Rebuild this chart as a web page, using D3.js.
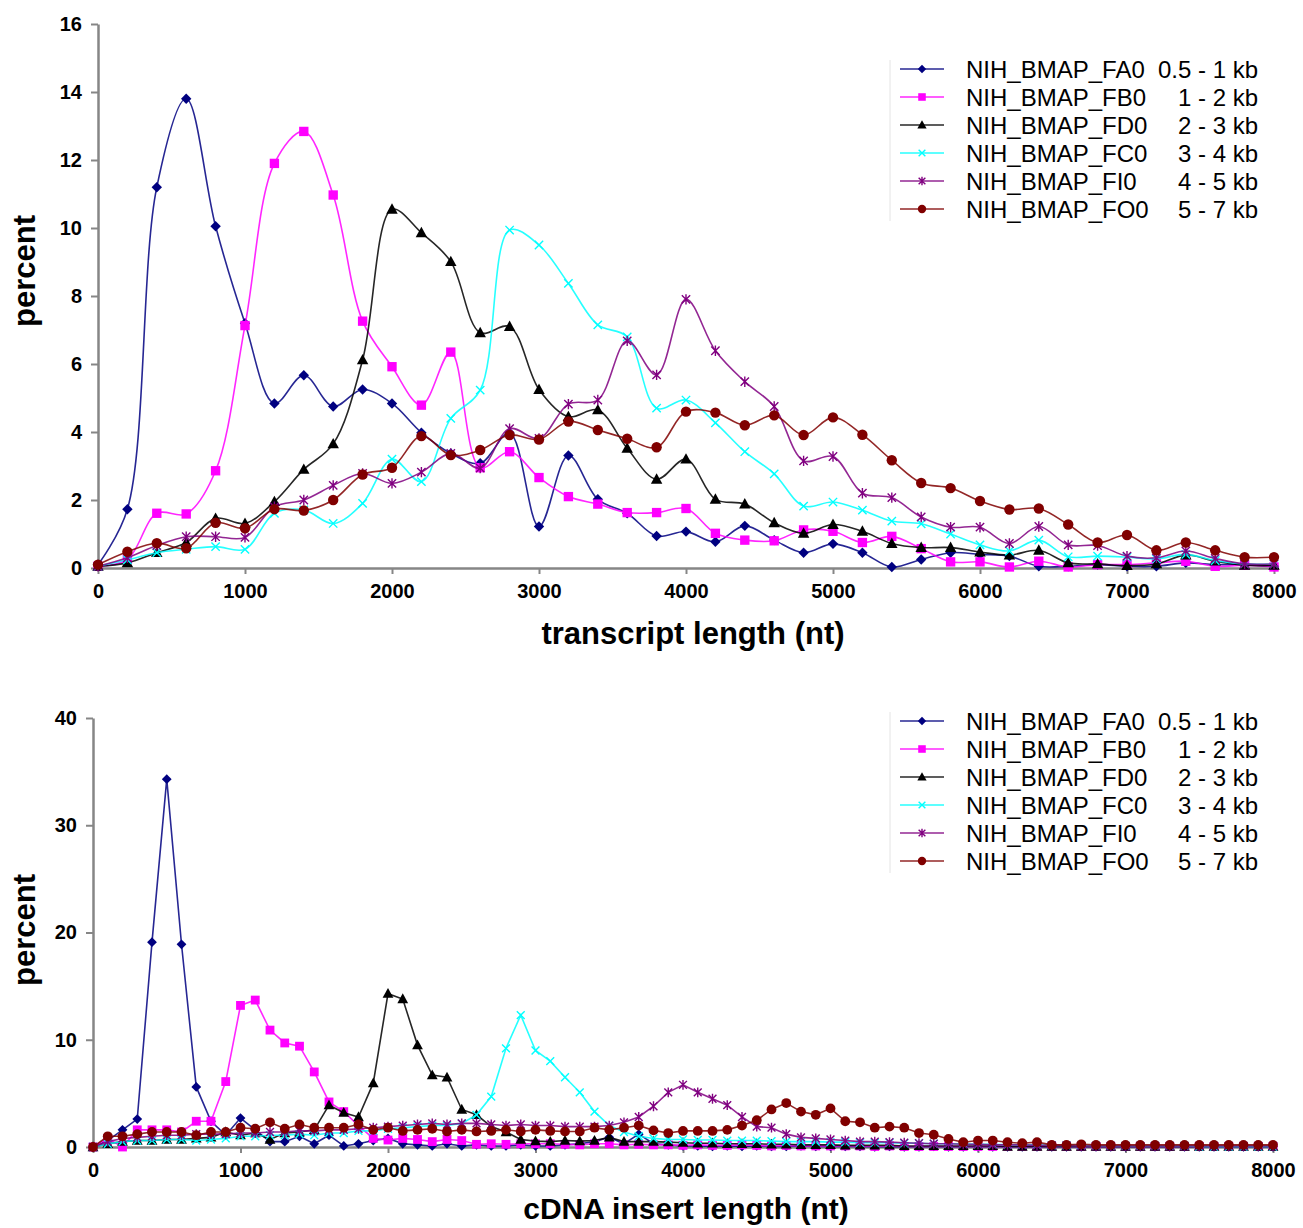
<!DOCTYPE html>
<html>
<head>
<meta charset="utf-8">
<script src="https://cdn.jsdelivr.net/npm/d3@7/dist/d3.min.js"></script>
<style>
	html, body { margin: 0; padding: 0; background: #fff; }
	svg { display: block; font-family: 'Liberation Sans', Arial, sans-serif; }
</style>
</head>
<body>
<div id="chart"></div>
<script>
// legend / series labels
const seriesNames = ['NIH_BMAP_FA0', 'NIH_BMAP_FB0', 'NIH_BMAP_FD0', 'NIH_BMAP_FC0', 'NIH_BMAP_FI0', 'NIH_BMAP_FO0'];
const seriesRanges = ['0.5 - 1 kb', '1 - 2 kb', '2 - 3 kb', '3 - 4 kb', '4 - 5 kb', '5 - 7 kb'];

// x categories (nt)
const topLengths = d3.range(0, 8001, 200);
const bottomLengths = d3.range(0, 8001, 100);

// top panel: transcript length, percent
const faTop = [0.1,1.73,11.2,13.8,10.05,7.2,4.84,5.67,4.75,5.25,4.84,3.98,3.37,3.08,3.97,1.22,3.31,2.02,1.61,0.94,1.07,0.77,1.24,0.82,0.45,0.71,0.45,0.03,0.25,0.45,0.4,0.35,0.05,0.05,0.1,0.05,0.05,0.15,0.1,0.1,0.05];
const fbTop = [0.05,0.25,1.61,1.59,2.86,7.13,11.9,12.84,10.97,7.26,5.92,4.79,6.35,2.95,3.42,2.66,2.1,1.88,1.63,1.63,1.75,1.02,0.82,0.8,1.12,1.08,0.75,0.93,0.57,0.18,0.18,0.03,0.2,0.03,0.1,0.1,0.15,0.2,0.05,0.08,0.03];
const fdTop = [0.05,0.15,0.45,0.75,1.46,1.31,1.95,2.9,3.65,6.12,10.55,9.86,9.01,6.92,7.1,5.25,4.45,4.65,3.52,2.61,3.2,2.02,1.88,1.33,1.02,1.28,1.08,0.72,0.6,0.6,0.47,0.38,0.52,0.15,0.12,0.07,0.12,0.38,0.2,0.08,0.08];
const fcTop = [0.05,0.24,0.45,0.55,0.63,0.55,1.61,1.71,1.31,1.9,3.2,2.54,4.4,5.23,9.94,9.5,8.37,7.15,6.8,4.7,4.94,4.27,3.42,2.77,1.82,1.94,1.7,1.38,1.3,1.0,0.68,0.5,0.82,0.33,0.35,0.32,0.27,0.4,0.22,0.12,0.12];
const fiTop = [0.05,0.3,0.66,0.92,0.92,0.9,1.8,2.0,2.43,2.78,2.49,2.82,3.37,2.94,4.1,3.81,4.82,4.94,6.68,5.68,7.9,6.39,5.48,4.75,3.15,3.28,2.2,2.07,1.5,1.2,1.2,0.72,1.22,0.68,0.66,0.35,0.3,0.5,0.28,0.12,0.12];
const foTop = [0.1,0.48,0.73,0.58,1.33,1.17,1.73,1.69,2.0,2.75,2.95,3.88,3.32,3.47,3.91,3.78,4.31,4.06,3.8,3.55,4.6,4.57,4.2,4.49,3.91,4.43,3.92,3.17,2.5,2.35,1.97,1.72,1.75,1.28,0.75,0.97,0.52,0.75,0.52,0.32,0.32];

// bottom panel: cDNA insert length, percent (rows of 1000 nt)
const faBottom = [
	0,0.6,1.6,2.6,19.1,34.3,18.9,5.6,2.4,1.1,
	2.7,1.6,0.5,0.5,1.0,0.3,1.1,0.1,0.3,0.6,
	0.8,0.3,0.2,0.1,0.3,0.1,0.2,0.1,0.1,0.2,
	0.1,0.1,0.2,0.3,0.5,0.9,0.3,1.2,0.3,0.2,
	0.1,0.1,0.05,0.1,0.05,0.1,0.05,0.05,0.1,0.05,
	0.05,0.05,0.05,0.02,0.05,0.02,0.02,0.05,0.02,0.02,
	0.02,0.02,0.02,0.02,0.02,0.02,0.02,0.02,0.02,0.02,
	0.02,0.02,0.02,0.02,0.02,0.02,0.02,0.02,0.02,0.02,
	0.02];
const fbBottom = [
	0,0.8,0,1.6,1.6,1.6,1.4,2.4,2.4,6.1,
	13.2,13.7,10.9,9.7,9.4,7.0,4.2,3.3,2.0,0.8,
	0.65,0.8,0.7,0.5,0.7,0.6,0.25,0.3,0.25,0.3,
	0.3,0.3,0.25,0.2,0.3,0.3,0.2,0.25,0.2,0.2,
	0.15,0.2,0.15,0.15,0.2,0.15,0.1,0.15,0.1,0.1,
	0.1,0.1,0.1,0.05,0.1,0.05,0.05,0.05,0.05,0.05,
	0.05,0.05,0.05,0.05,0.05,0.05,0.05,0.05,0.05,0.05,
	0.05,0.05,0.05,0.05,0.05,0.05,0.05,0.05,0.05,0.05,
	0.05];
const fdBottom = [
	0,0.3,0.5,0.6,0.6,0.7,0.7,0.8,0.9,1.4,
	1.1,1.3,0.7,1.3,1.4,1.6,3.9,3.2,2.8,5.95,
	14.3,13.8,9.5,6.7,6.5,3.5,3.0,1.9,1.4,0.7,
	0.55,0.5,0.6,0.55,0.6,0.9,0.5,0.5,0.5,0.45,
	0.4,0.35,0.35,0.3,0.3,0.3,0.25,0.25,0.2,0.2,
	0.2,0.15,0.15,0.15,0.15,0.1,0.1,0.1,0.1,0.1,
	0.1,0.1,0.05,0.05,0.05,0.05,0.05,0.05,0.05,0.05,
	0.05,0.05,0.05,0.05,0.05,0.05,0.05,0.05,0.05,0.05,
	0.05];
const fcBottom = [
	0,0.3,0.5,0.6,0.6,0.7,0.7,0.6,0.7,0.8,
	1.0,1.0,1.1,1.1,1.2,1.1,1.3,1.3,1.5,1.5,
	1.7,1.8,1.9,2.0,2.0,2.2,3.0,4.7,9.2,12.3,
	9.0,8.0,6.5,5.1,3.3,2.0,1.4,1.0,0.8,0.7,
	0.7,0.65,0.65,0.6,0.6,0.6,0.55,0.5,0.5,0.5,
	0.45,0.45,0.4,0.4,0.4,0.35,0.35,0.3,0.3,0.3,
	0.25,0.25,0.2,0.2,0.2,0.15,0.15,0.15,0.1,0.1,
	0.1,0.1,0.1,0.1,0.1,0.05,0.05,0.05,0.05,0.05,
	0.05];
const fiBottom = [
	0,0.5,0.8,0.9,1.0,1.1,1.1,1.2,1.2,1.2,
	1.3,1.3,1.4,1.4,1.5,1.5,1.6,1.6,1.7,1.8,
	1.9,2.0,2.1,2.2,2.1,2.2,2.2,2.1,2.0,2.1,
	2.0,2.0,1.9,1.9,1.9,2.0,2.3,2.8,3.8,5.1,
	5.8,5.1,4.5,3.9,2.8,1.9,1.8,1.2,0.9,0.8,
	0.7,0.6,0.5,0.5,0.45,0.4,0.35,0.3,0.3,0.25,
	0.25,0.2,0.2,0.2,0.15,0.15,0.15,0.1,0.1,0.1,
	0.1,0.1,0.1,0.1,0.1,0.1,0.1,0.1,0.1,0.1,
	0.1];
const foBottom = [
	0,1.0,1.0,1.2,1.4,1.4,1.4,1.1,1.4,1.4,
	1.8,1.7,2.3,1.7,2.1,1.8,1.8,1.8,2.1,1.6,
	1.8,1.5,1.6,1.7,1.45,1.6,1.45,1.5,1.6,1.45,
	1.6,1.5,1.45,1.45,1.8,1.6,1.8,2.0,1.55,1.3,
	1.5,1.5,1.5,1.6,2.0,2.5,3.5,4.1,3.3,3.0,
	3.6,2.4,2.3,1.8,1.9,1.8,1.3,1.15,0.75,0.45,
	0.6,0.6,0.45,0.35,0.45,0.2,0.2,0.25,0.2,0.2,
	0.2,0.2,0.2,0.2,0.2,0.2,0.2,0.2,0.2,0.2,
	0.2];

const topTicksY = [0, 2, 4, 6, 8, 10, 12, 14, 16];
const bottomTicksY = [0, 10, 20, 30, 40];
const ticksX = [0, 1000, 2000, 3000, 4000, 5000, 6000, 7000, 8000];

const seriesColors = ['#000080', '#ff00ff', '#000000', '#00ffff', '#800080', '#800000'];
const seriesMarkers = ['diamond', 'square', 'triangle', 'cross', 'star', 'circle'];

const svg = d3.select('#chart').append('svg')
	.attr('width', 1303)
	.attr('height', 1228);
svg.append('rect').attr('width', 1303).attr('height', 1228).attr('fill', '#fff');

// excel-like marker glyphs
function drawMarker(g, type, color, s) {
	if(type === 'diamond') {
		g.append('path').attr('d', `M0,${-s}L${s},0L0,${s}L${-s},0Z`).attr('fill', color);
	} else if(type === 'square') {
		g.append('rect').attr('x', -s * 0.9).attr('y', -s * 0.9)
			.attr('width', s * 1.8).attr('height', s * 1.8).attr('fill', color);
	} else if(type === 'triangle') {
		g.append('path').attr('d', `M0,${-s * 1.15}L${s * 1.1},${s * 0.85}L${-s * 1.1},${s * 0.85}Z`).attr('fill', color);
	} else if(type === 'cross') {
		g.append('path').attr('d', `M${-s * 0.8},${-s * 0.8}L${s * 0.8},${s * 0.8}M${-s * 0.8},${s * 0.8}L${s * 0.8},${-s * 0.8}`)
			.attr('stroke', color).attr('stroke-width', 1.4).attr('fill', 'none');
	} else if(type === 'star') {
		g.append('path').attr('d', `M${-s * 0.8},${-s * 0.8}L${s * 0.8},${s * 0.8}M${-s * 0.8},${s * 0.8}L${s * 0.8},${-s * 0.8}M0,${-s}L0,${s}`)
			.attr('stroke', color).attr('stroke-width', 1.4).attr('fill', 'none');
	} else {
		g.append('circle').attr('r', s).attr('fill', color);
	}
}

function drawPanel(cfg) {
	const x = d3.scaleLinear().domain([0, 8000]).range(cfg.xRange);
	const y = d3.scaleLinear().domain([0, cfg.yMax]).range(cfg.yRange);
	const axisColor = '#868686';

	// y axis
	const yAxis = svg.append('g')
		.attr('transform', `translate(${cfg.xRange[0]},0)`)
		.call(d3.axisLeft(y).tickValues(cfg.yTicks).tickFormat(d3.format('d'))
			.tickSize(7).tickSizeOuter(0).tickPadding(9));
	// x axis
	const xAxis = svg.append('g')
		.attr('transform', `translate(0,${cfg.yRange[0]})`)
		.call(d3.axisBottom(x).tickValues(ticksX).tickFormat(d3.format('d'))
			.tickSize(6).tickSizeOuter(0).tickPadding(10));

	[yAxis, xAxis].forEach(a => {
		a.select('.domain').attr('stroke', axisColor).attr('stroke-width', 2.5);
		a.selectAll('.tick line').attr('stroke', axisColor).attr('stroke-width', 2);
		a.selectAll('.tick text')
			.attr('fill', '#000')
			.style('font-size', '20px')
			.style('font-weight', 'bold')
			.style('font-family', "'Liberation Sans', Arial, sans-serif");
	});

	// axis titles
	svg.append('text')
		.attr('x', cfg.xTitlePos[0])
		.attr('y', cfg.xTitlePos[1])
		.attr('text-anchor', 'middle')
		.style('font-size', cfg.xTitleSize)
		.style('font-weight', 'bold')
		.text(cfg.xTitle);
	svg.append('text')
		.attr('transform', `translate(${cfg.yTitlePos[0]},${cfg.yTitlePos[1]}) rotate(-90)`)
		.attr('text-anchor', 'middle')
		.style('font-size', '31px')
		.style('font-weight', 'bold')
		.text('percent');

	const line = d3.line()
		.x(d => x(d[0]))
		.y(d => y(d[1]))
		.curve(cfg.curve);

	cfg.series.forEach((values, i) => {
		const pts = cfg.lengths.map((len, j) => [len, values[j]]);
		const g = svg.append('g');
		g.append('path')
			.attr('d', line(pts))
			.attr('fill', 'none')
			.attr('stroke', seriesColors[i])
			.attr('stroke-width', 1.6)
			.attr('stroke-opacity', 0.85);
		g.selectAll('g.marker')
			.data(pts)
			.enter()
			.append('g')
			.attr('class', 'marker')
			.attr('transform', d => `translate(${x(d[0])},${y(d[1])})`)
			.each(function() {
				drawMarker(d3.select(this), seriesMarkers[i], seriesColors[i], cfg.markerSize);
			});
	});

	// legend
	const legend = svg.append('g');
	legend.append('line')
		.attr('x1', 890).attr('x2', 890)
		.attr('y1', cfg.legendY - 9).attr('y2', cfg.legendY + 28 * 5 + 12)
		.attr('stroke', '#e4e4e4').attr('stroke-width', 1);
	seriesNames.forEach((name, i) => {
		const cy = cfg.legendY + 28 * i;
		const row = legend.append('g');
		row.append('line')
			.attr('x1', 900).attr('x2', 944)
			.attr('y1', cy).attr('y2', cy)
			.attr('stroke', seriesColors[i]).attr('stroke-width', 1.6).attr('stroke-opacity', 0.85);
		drawMarker(row.append('g').attr('transform', `translate(922,${cy})`), seriesMarkers[i], seriesColors[i], 4.2);
		row.append('text')
			.attr('x', 966).attr('y', cy + 8.5)
			.style('font-size', '24px')
			.text(name);
		row.append('text')
			.attr('x', 1258).attr('y', cy + 8.5)
			.attr('text-anchor', 'end')
			.style('font-size', '24px')
			.text(seriesRanges[i]);
	});
}

drawPanel({
	lengths: topLengths,
	series: [faTop, fbTop, fdTop, fcTop, fiTop, foTop],
	xRange: [98, 1274],
	yRange: [568, 24],
	yMax: 16,
	yTicks: topTicksY,
	curve: d3.curveCatmullRom.alpha(0.5),
	markerSize: 5.2,
	xTitle: 'transcript length (nt)',
	xTitleSize: '31px',
	xTitlePos: [693, 644],
	yTitlePos: [35, 271],
	legendY: 69,
});

drawPanel({
	lengths: bottomLengths,
	series: [faBottom, fbBottom, fdBottom, fcBottom, fiBottom, foBottom],
	xRange: [93, 1273],
	yRange: [1147, 718],
	yMax: 40,
	yTicks: bottomTicksY,
	curve: d3.curveLinear,
	markerSize: 4.9,
	xTitle: 'cDNA insert length (nt)',
	xTitleSize: '30px',
	xTitlePos: [686, 1219],
	yTitlePos: [35, 930],
	legendY: 721,
});
</script>
</body>
</html>
